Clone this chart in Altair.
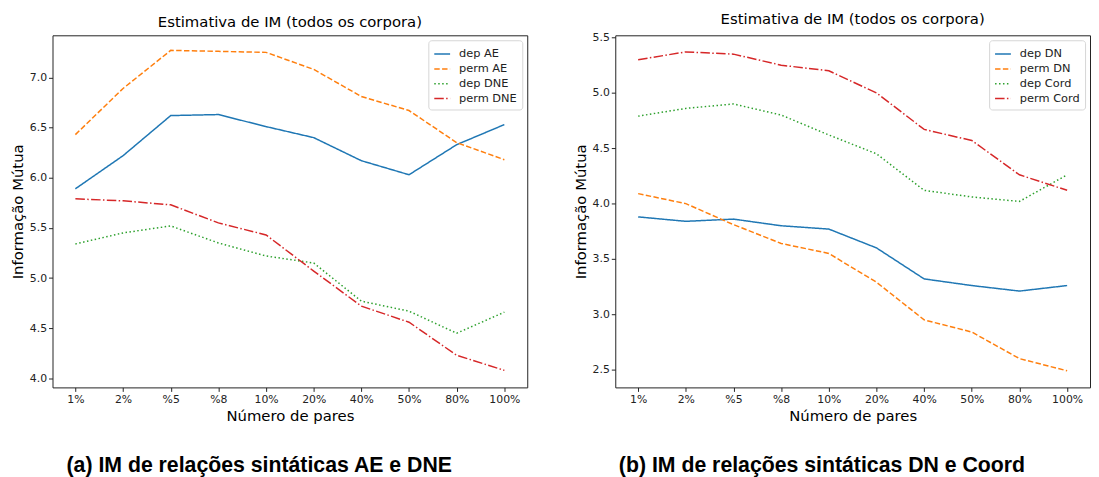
import altair as alt
import pandas as pd

categories = ["1%", "2%", "%5", "%8", "10%", "20%", "40%", "50%", "80%", "100%"]

series_a = ["dep AE", "perm AE", "dep DNE", "perm DNE"]
dep_ae = [5.89, 6.22, 6.62, 6.63, 6.51, 6.40, 6.17, 6.03, 6.33, 6.53]
perm_ae = [6.43, 6.89, 7.27, 7.26, 7.25, 7.08, 6.81, 6.67, 6.35, 6.18]
dep_dne = [5.34, 5.45, 5.52, 5.35, 5.22, 5.15, 4.77, 4.67, 4.45, 4.66]
perm_dne = [5.79, 5.77, 5.73, 5.55, 5.43, 5.07, 4.72, 4.56, 4.23, 4.08]

series_b = ["dep DN", "perm DN", "dep Cord", "perm Cord"]
dep_dn = [3.88, 3.84, 3.86, 3.80, 3.77, 3.60, 3.32, 3.26, 3.21, 3.26]
perm_dn = [4.09, 4.00, 3.81, 3.64, 3.55, 3.29, 2.95, 2.84, 2.60, 2.49]
dep_cord = [4.79, 4.86, 4.90, 4.80, 4.62, 4.45, 4.12, 4.06, 4.02, 4.26]
perm_cord = [5.30, 5.37, 5.35, 5.25, 5.20, 5.00, 4.67, 4.57, 4.26, 4.12]

yticks_a = [4.0, 4.5, 5.0, 5.5, 6.0, 6.5, 7.0]
yticks_b = [2.5, 3.0, 3.5, 4.0, 4.5, 5.0, 5.5]

title_text = "Estimativa de IM (todos os corpora)"
xlabel = "Número de pares"
ylabel = "Informação Mútua"
caption_a = "(a) IM de relações sintáticas AE e DNE"
caption_b = "(b) IM de relações sintáticas DN e Coord"

colors = ["#1f77b4", "#ff7f0e", "#2ca02c", "#d62728"]
dashes = [[1, 0], [5.5, 2.4], [1.5, 2.5], [9.6, 2.4, 1.5, 2.4]]

FONT = "DejaVu Sans"
W, H = 480, 356


def panel(series, values, ydomain, yticks, caption):
    rows = []
    for s, vals in zip(series, values):
        for i, (c, v) in enumerate(zip(categories, vals)):
            rows.append({"pares": c, "valor": v, "serie": s, "idx": i})
    df = pd.DataFrame(rows)
    legend = alt.Legend(
        title=None, orient="top-right", offset=5, padding=5,
        strokeColor="#d6d6d6", fillColor="white", cornerRadius=3,
        labelFont=FONT, labelFontSize=11.5, labelColor="#222",
        symbolType="stroke", symbolSize=256, symbolStrokeWidth=1.5,
        rowPadding=0, labelOffset=8,
    )
    lines = alt.Chart(df).mark_line(strokeWidth=1.5).encode(
        x=alt.X("pares:N", sort=categories,
                scale=alt.Scale(type="point", padding=0.48),
                axis=alt.Axis(title=xlabel, labelAngle=0)),
        y=alt.Y("valor:Q",
                scale=alt.Scale(domain=ydomain, nice=False, zero=False),
                axis=alt.Axis(title=ylabel, values=yticks, format=".1f")),
        color=alt.Color("serie:N", scale=alt.Scale(domain=series, range=colors), legend=legend),
        strokeDash=alt.StrokeDash("serie:N", scale=alt.Scale(domain=series, range=dashes), legend=legend),
        order=alt.Order("idx:Q"),
    )
    cap = alt.Chart(pd.DataFrame({"t": [caption]})).mark_text(
        font="Liberation Sans", fontWeight="bold", fontSize=21.5,
        align="center", baseline="middle", color="black",
    ).encode(text="t:N", x=alt.value(209), y=alt.value(436))
    return alt.layer(lines, cap).properties(
        width=W, height=H,
        title=alt.Title(title_text, font=FONT, fontSize=15, fontWeight="normal",
                        color="black", anchor="middle", offset=5),
    )


left = panel(series_a, [dep_ae, perm_ae, dep_dne, perm_dne], [3.91, 7.42], yticks_a, caption_a)
right = panel(series_b, [dep_dn, perm_dn, dep_cord, perm_cord], [2.34, 5.52], yticks_b, caption_b)

chart = alt.hconcat(left, right, spacing=45).resolve_scale(
    color="independent", strokeDash="independent", x="independent", y="independent"
).properties(
    padding={"left": 2, "top": 0, "right": 0, "bottom": 0}
).configure_view(
    stroke="#222", strokeWidth=1
).configure_axis(
    grid=False, domain=False, ticks=True, tickColor="#222", tickSize=4, tickWidth=1,
    labelFont=FONT, labelFontSize=11, labelColor="#222", labelPadding=2,
    titleFont=FONT, titleFontSize=15, titleFontWeight="normal", titleColor="black",
    titlePadding=4,
)

chart.save("out.html", embed_options={"renderer": "svg", "actions": False})
